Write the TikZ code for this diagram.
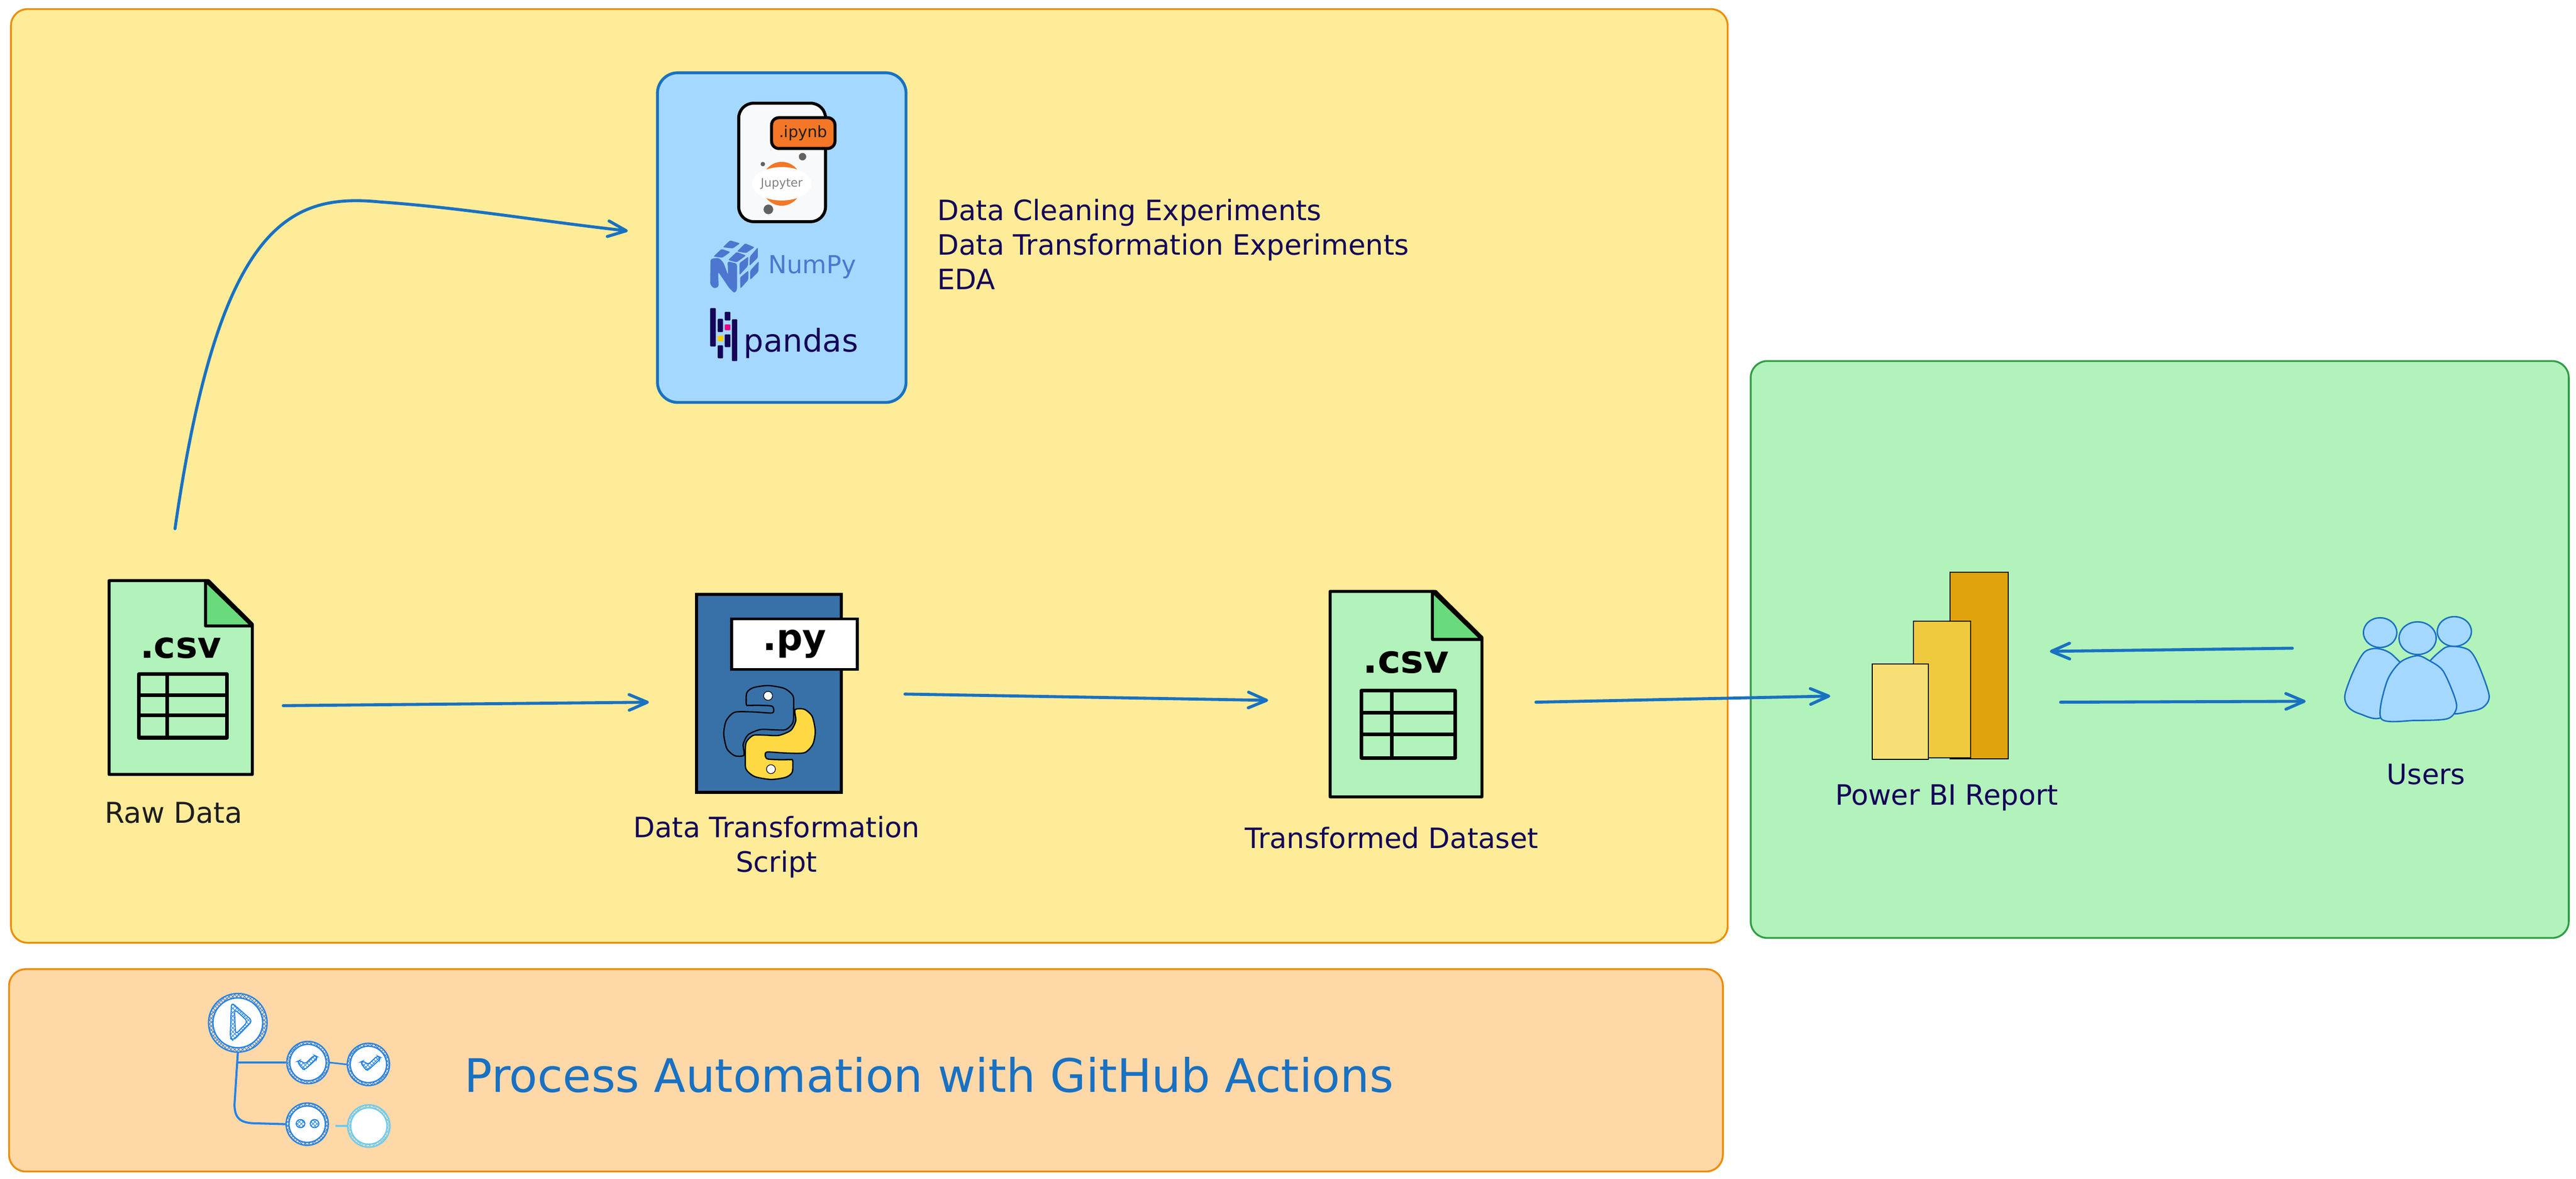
\documentclass[tikz,border=0pt]{standalone}
\usepackage{fontspec}
\setmainfont{DejaVu Sans}
\usepackage{xcolor}
\usepackage{tikz}
\usetikzlibrary{arrows.meta,patterns,shapes.geometric,positioning}
\definecolor{paneyellow}{HTML}{FFEC99}
\definecolor{paneorange}{HTML}{FFD8A8}
\definecolor{panegreen}{HTML}{B2F2BB}
\definecolor{edgeorange}{HTML}{F08C00}
\definecolor{edgegreen}{HTML}{2F9E44}
\definecolor{foldgreen}{HTML}{69DB7C}
\definecolor{paleblue}{HTML}{A5D8FF}
\definecolor{flowblue}{HTML}{1971C2}
\definecolor{gitblue}{HTML}{2383EA}
\definecolor{gitpale}{HTML}{66CCF8}
\definecolor{labelnavy}{HTML}{150458}
\definecolor{labelblack}{HTML}{1E1E1E}
\definecolor{pyblue}{HTML}{3771A8}
\definecolor{pyyellow}{HTML}{FFD943}
\definecolor{npblue}{HTML}{4D77CF}
\definecolor{nbgrey}{HTML}{616161}
\definecolor{nbpaper}{HTML}{F8F9FA}
\definecolor{nborange}{HTML}{F37726}
\definecolor{pdyellow}{HTML}{FFCA00}
\definecolor{pdpink}{HTML}{E70488}
\definecolor{bardark}{HTML}{E0A30E}
\definecolor{barmid}{HTML}{F0CA3E}
\definecolor{barlight}{HTML}{F8DF75}
\tikzset{
  panel/.style={
      draw,
      line width=1.4pt,
      rounded corners=0.45cm,
      anchor=north west,
      inner sep=0
    },
  lbl/.style={
      font=\fontsize{21.5}{26.5}\selectfont,
      text=labelnavy,
      align=center
    },
  inkbox/.style={
      draw=black,
      line width=2.3pt,
      inner sep=0
    },
  bar/.style={
      draw=black,
      line width=0.8pt,
      anchor=north west,
      inner sep=0
    },
  flow/.style={
      ->,
      draw=flowblue,
      line width=2.3pt,
      line cap=round
    },
  ghring/.style={
      circle,
      draw=#1,
      line width=1pt,
      pattern=crosshatch,
      pattern color=#1,
      inner sep=0
    },
  ghhole/.style={
      circle,
      fill=white,
      draw=#1,
      line width=1pt,
      inner sep=0
    },
  csvfile/.pic={
      \node[inner sep=0,minimum width=3.86cm,minimum height=5.22cm,anchor=north west,transform shape]
        at (0,0) (#1) {};
      \draw[inkbox,fill=panegreen,line join=round]
        (0,0) -- (2.68,0) -- (3.86,-1.17) -- (3.86,-5.22) -- (0,-5.22) -- cycle;
      \draw[inkbox,fill=foldgreen,line join=round]
        (2.60,0) -- (2.60,-1.22) -- (3.86,-1.22) -- cycle;
      \node[font=\fontsize{28}{30}\selectfont\bfseries,text=black,transform shape]
        at (1.93,-1.81) (#1-ext) {.csv};
      \draw[inkbox,line width=2.8pt,line join=round]
        (0.80,-2.52) rectangle (3.18,-4.23)
        (0.80,-3.08) -- (3.18,-3.08)
        (0.80,-3.63) -- (3.18,-3.63)
        (1.57,-2.52) -- (1.57,-4.23);
    },
  pysnake/.pic={
      \draw[draw=black,line width=1pt,fill=#1]
        plot[smooth cycle,tension=0.45] coordinates {
          (-163,-190) (-160,-270) (-115,-305) (-10,-320) (105,-300) (165,-250)
          (170,-170) (165,-70) (115,-20) (35,-18) (-65,-20) (-150,15) (-185,80)
          (-180,155) (-245,158) (-300,110) (-322,10) (-305,-80) (-245,-138)
          (-115,-140) (15,-133) (30,-155) (15,-180) (-65,-185) (-145,-185)};
      \node[circle,fill=white,draw=black,line width=0.5pt,minimum size=0.24cm,inner sep=0]
        at (-10,-250) {};
    }
}

\begin{document}
\begin{tikzpicture}[>={Straight Barb[length=14pt,width=12pt,round]}]
\useasboundingbox (0,0) rectangle (69.43,-31.75);
% the panels
\node[panel,fill=paneyellow,draw=edgeorange,minimum width=46.27cm,minimum height=25.15cm]
  at (0.27,-0.22) (work) {};
\node[panel,fill=panegreen,draw=edgegreen,minimum width=22.05cm,minimum height=15.54cm]
  at (47.16,-9.70) (report) {};
\node[panel,fill=paneorange,draw=edgeorange,minimum width=46.19cm,minimum height=5.45cm]
  at (0.22,-26.08) (automation) {};

% the notebook box
\node[draw=flowblue,fill=paleblue,line width=2.2pt,rounded corners=0.55cm,inner sep=0,
  minimum width=6.70cm,minimum height=8.88cm]
  at (21.07,-6.40) (tools) {};
\node[draw=black,fill=nbpaper,line width=2.3pt,rounded corners=0.4cm,inner sep=0,
  minimum width=2.34cm,minimum height=3.19cm]
  at (21.08,-4.375) (nbfile) {};
\node[ellipse,fill=nborange,inner sep=0,minimum width=1.10cm,minimum height=1.18cm]
  at (21.07,-4.95) (nbswirl) {};
\node[ellipse,fill=white,inner sep=0,minimum width=1.36cm,minimum height=0.90cm,
  font=\fontsize{9}{10}\selectfont,text=gray]
  at (21.07,-4.95) (nbname) {Jupyter};
\node[circle,fill=nbgrey,inner sep=0,minimum size=0.20cm] at (21.63,-4.22) (nbdota) {};
\node[circle,fill=nbgrey,inner sep=0,minimum size=0.12cm] at (20.56,-4.42) (nbdotb) {};
\node[circle,fill=nbgrey,inner sep=0,minimum size=0.26cm] at (20.71,-5.64) (nbdotc) {};
\node[draw=black,fill=nborange,line width=2.3pt,rounded corners=0.2cm,inner sep=0,
  minimum width=1.71cm,minimum height=0.83cm,font=\fontsize{12}{13}\selectfont,text=labelblack]
  at (21.65,-3.585) (nbtag) {.ipynb};
\begin{scope}[shift={(17,-1.5)},x=0.0051cm,y=-0.00625cm]
  \foreach \Ax/\Ay/\Bx/\By/\Cx/\Cy/\Dx/\Dy in {
      487/825/525/795/578/808/540/830,
      562/843/605/808/655/825/610/850,
      437/865/480/832/527/845/485/870,
      515/880/560/845/610/860/560/890,
      575/893/622/865/620/905/575/945,
      630/865/672/825/672/870/628/905,
      578/955/622/925/622/965/580/1003,
      632/925/677/885/675/930/632/965}
    \fill[npblue,rounded corners=1pt] (\Ax,\Ay) -- (\Bx,\By) -- (\Cx,\Cy) -- (\Dx,\Dy) -- cycle;
  \fill[npblue,rounded corners=1.5pt]
    (422,875) -- (465,870) -- (490,890) -- (515,945) -- (512,885) -- (562,895)
    -- (562,1010) -- (548,1023) -- (520,1000) -- (462,930) -- (465,995)
    -- (440,1003) -- (420,985) -- cycle;
  \foreach \Left/\Top/\Right/\Bottom/\Col in {
      420/1087/450/1252/labelnavy, 460/1133/488/1190/labelnavy,
      460/1247/488/1303/labelnavy, 460/1205/490/1230/pdyellow,
      497/1103/527/1140/labelnavy, 497/1157/527/1182/pdpink,
      497/1200/527/1255/labelnavy, 535/1135/563/1315/labelnavy}
    \fill[\Col,rounded corners=0.5pt] (\Left,\Top) rectangle (\Right,\Bottom);
\end{scope}
\node[font=\fontsize{19}{22}\selectfont,text=npblue] at (21.89,-7.19) (numpy) {NumPy};
\node[font=\fontsize{24}{26}\selectfont,text=labelnavy] at (21.59,-9.25) (pandas) {pandas};
\node[lbl,anchor=west,align=left] at (25.14,-6.58) (experiments)
  {Data Cleaning Experiments\\Data Transformation Experiments\\EDA};

% the files
\path
  (2.94,-15.64) pic {csvfile=raw}
  (35.85,-15.93) pic[scale=1.06] {csvfile=result};
\node[inkbox,fill=pyblue,minimum width=3.91cm,minimum height=5.33cm]
  at (20.725,-18.675) (script) {};
\path
  (20.74,-19.73) pic[x=0.00383cm,y=-0.00395cm] {pysnake=pyblue}
  (20.74,-19.73) pic[x=0.00383cm,y=-0.00395cm,rotate=180] {pysnake=pyyellow};
\node[inkbox,fill=white,minimum width=3.39cm,minimum height=1.36cm,
  font=\fontsize{28}{30}\selectfont\bfseries,text=black]
  at (21.415,-17.35) (scripttag) {.py};
\node[lbl,text=labelblack,font=\fontsize{22}{26}\selectfont] at (4.68,-21.89) (rawlabel) {Raw Data};
\node[lbl] at (20.93,-22.82) (scriptlabel) {Data Transformation\\Script};
\node[lbl] at (37.51,-22.57) (resultlabel) {Transformed Dataset};

% the report and its users
\node[bar,fill=bardark,minimum width=1.57cm,minimum height=5.02cm]
  at (52.54,-15.40) (bartall) {};
\node[bar,fill=barmid,minimum width=1.54cm,minimum height=3.68cm]
  at (51.56,-16.72) (barmiddle) {};
\node[bar,fill=barlight,minimum width=1.51cm,minimum height=2.57cm]
  at (50.45,-17.87) (barshort) {};
\node[lbl] at (52.47,-21.48) (reportlabel) {Power BI Report};
\node[inner sep=0,minimum width=3.90cm,minimum height=2.80cm]
  at (65.15,-18.00) (users) {};
\begin{scope}[shift={(49,-14.8)},x=0.01212cm,y=-0.004464cm,
  draw=flowblue,fill=paleblue,line width=1.1pt]
  \filldraw plot[smooth cycle,tension=0.5] coordinates {
    (1245,597) (1215,620) (1190,740) (1172,880) (1180,950) (1205,990) (1255,1010) (1320,800) (1280,640)};
  \filldraw plot[smooth cycle,tension=0.5] coordinates {
    (1420,585) (1390,600) (1350,740) (1400,975) (1450,975) (1480,950) (1493,880) (1470,700) (1450,610)};
  \filldraw plot[smooth cycle,tension=0.5] coordinates {
    (1333,640) (1295,680) (1265,800) (1253,1020) (1330,1030) (1400,1020) (1420,960) (1415,880) (1390,730) (1360,670)};
\end{scope}
\foreach \Xc/\Yc/\Xr/\Yr in {64.15/17.04/0.45/0.40,66.15/17.01/0.46/0.40,65.16/17.19/0.50/0.44}
  \filldraw[draw=flowblue,fill=paleblue,line width=1.1pt]
    (\Xc,-\Yc) ellipse ({\Xr} and {\Yr});
\node[lbl] at (65.39,-20.86) (userslabel) {Users};

% the automation logo
\node[lbl,font=\fontsize{35.4}{40}\selectfont,text=flowblue] at (25.04,-28.96) (ghtitle)
  {Process Automation with GitHub Actions};
\foreach \Name/\Xc/\Yc/\Size/\Col in {
    ghstart/6.41/27.55/1.58cm/gitblue,
    ghtesta/8.30/28.62/1.14cm/gitblue,
    ghtestb/9.93/28.67/1.14cm/gitblue,
    ghrun/8.28/30.28/1.14cm/gitblue,
    ghdone/9.94/30.33/1.14cm/gitpale}
  \node[ghring=\Col,minimum size=\Size] at (\Xc,-\Yc) (\Name) {};
\foreach \Name/\Size/\Col in {ghstart/1.34cm/gitblue,ghtesta/0.98cm/gitblue,
    ghtestb/0.98cm/gitblue,ghrun/0.98cm/gitblue,ghdone/0.98cm/gitpale}
  \node[ghhole=\Col,minimum size=\Size] at (\Name) {};
\begin{scope}[shift={(5,-26.4)},x=0.004146cm,y=-0.003333cm,draw=gitblue,line width=0.8pt]
  \draw[pattern=crosshatch,pattern color=gitblue,rounded corners=3pt,even odd rule]
    (298,180) -- (435,330) -- (310,490) -- (290,470) -- cycle
    (318,235) -- (405,335) -- (325,440) -- cycle;
  \foreach \Dx/\Dy in {0/0,410/5}
    \draw[shift={(\Dx,\Dy)},pattern=crosshatch,pattern color=gitblue,rounded corners=2pt]
      (725,660) -- (745,648) -- (775,680) -- (835,608) -- (855,620) -- (850,640)
      -- (775,725) -- (760,720) -- cycle;
  \foreach \Xc in {747,838}
    \draw[pattern=crosshatch,pattern color=gitblue] (\Xc,1162) ellipse (28 and 33);
\end{scope}

%the arrows
\draw[flow]
  ([xshift=-0.16cm,yshift=1.40cm]raw.north) ..
    controls (5.90,-6.00) and (7.80,-5.20) .. (10.25,-5.44) ..
    controls (12.50,-5.60) and (14.50,-5.95) ..
  ([xshift=-0.76cm,yshift=0.18cm]tools.west);
\draw[flow]
  ([xshift=0.82cm,yshift=-0.75cm]raw.east) --
  ([xshift=-1.24cm,yshift=-0.24cm]script.west);
\draw[flow]
  ([xshift=1.67cm,yshift=-0.02cm]script.east) --
  ([xshift=-1.67cm,yshift=-0.16cm]result.west);
\draw[flow]
  ([xshift=1.44cm,yshift=-0.21cm]result.east) --
  ([xshift=-1.12cm,yshift=0.42cm]barshort.west);
\draw[flow]
  ([xshift=-1.41cm,yshift=0.54cm]users.west) --
  ([xshift=1.11cm,yshift=0.38cm]bartall.east);
\draw[flow]
  ([xshift=1.40cm,yshift=-0.99cm]bartall.east) --
  ([xshift=-1.05cm,yshift=-0.89cm]users.west);
\draw[gitblue,line width=1.6pt,line cap=round]
  (ghstart.south) -- ++(-0.09,-1.40) ..
    controls (6.33,-30.20) and (6.55,-30.26) .. (7.00,-30.26) -- (ghrun.west);
\draw[gitblue,line width=1.6pt]
  (ghstart.south |- ghtesta.west) -- (ghtesta.west);
\draw[gitblue,line width=1.2pt]
  (ghtesta.east) -- (ghtestb.west);
\draw[gitpale,line width=1.6pt,line cap=round]
  ([xshift=-0.29cm]ghdone.west) -- (ghdone.west);
\end{tikzpicture}
\end{document}
